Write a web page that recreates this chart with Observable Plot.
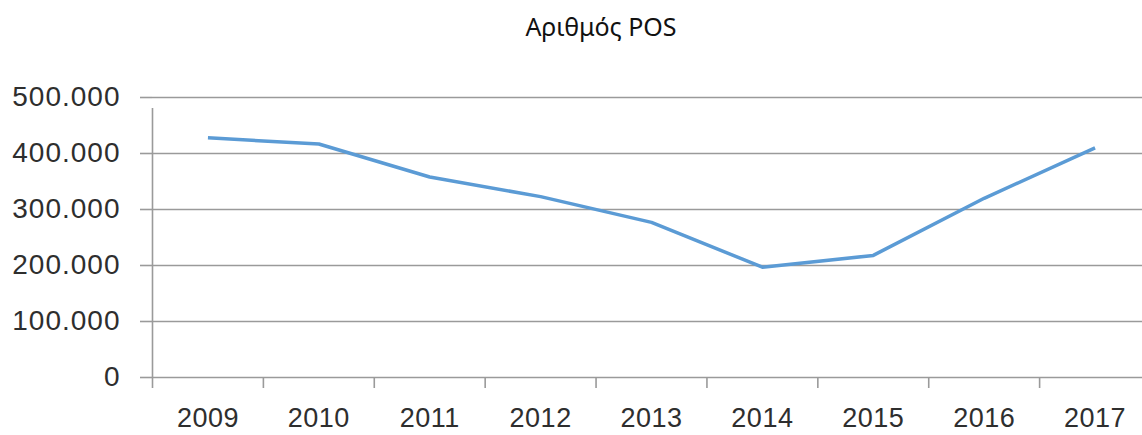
<!DOCTYPE html>
<html>
<head>
<meta charset="utf-8">
<script src="https://cdn.jsdelivr.net/npm/d3@7"></script>
<script src="https://cdn.jsdelivr.net/npm/@observablehq/plot@0.6"></script>
<style>
  html, body { margin: 0; padding: 0; background: #fff; }
  #title { height: 56px; width: 1142px; box-sizing: border-box; padding-left: 60px; text-align: center;
           font-family: "Noto Sans", "Open Sans", sans-serif; font-size: 25px; color: #111;
           line-height: 52px; }
  #chart svg { display: block; }
  .yax text { letter-spacing: 1px; }
  .xlab text { letter-spacing: 0.5px; }
</style>
</head>
<body>
<div id="title">Αριθμός POS</div>
<div id="chart"></div>
<script>
const years = [2009, 2010, 2011, 2012, 2013, 2014, 2015, 2016, 2017];
const posCount = [428000, 417000, 358000, 323000, 277000, 197000, 218000, 320000, 410000];
const yTicks = [0, 100000, 200000, 300000, 400000, 500000];
const titleText = "Αριθμός POS";

const data = years.map((y, i) => ({year: y, value: posCount[i]}));
const boundaries = years.map(y => y - 0.5);
const greek = d3.formatLocale({decimal: ",", thousands: ".", grouping: [3], currency: ["", "€"]});
const fmt = greek.format(",");

const grid = "#9a9a9a";
const textColor = "#2e2e2e";

const chart = Plot.plot({
  width: 1142,
  height: 379,
  marginTop: 41,
  marginBottom: 58,
  marginLeft: 152,
  marginRight: 0,
  style: {fontFamily: "'Liberation Sans', Arial, sans-serif", fontSize: "28px", color: textColor, background: "#fff"},
  x: {type: "linear", domain: [2008.5, 2017.5], range: [152, 1150]},
  y: {domain: [0, 500000]},
  marks: [
    Plot.ruleY(yTicks, {stroke: grid, strokeWidth: 1.6}),
    Plot.ruleX([2008.5], {y1: 0, y2: 500000, stroke: grid, strokeWidth: 1.6, insetBottom: -11}),
    Plot.axisY({ticks: yTicks, tickFormat: fmt, tickSize: 12, tickPadding: 20, stroke: grid, strokeWidth: 1.6, fill: textColor, label: null, className: "yax"}),
    Plot.axisX({ticks: boundaries, tickSize: 11, tickFormat: () => "", stroke: grid, strokeWidth: 1.6, label: null}),
    Plot.axisX({ticks: years, tickSize: 0, tickPadding: 30, fontSize: 27, tickFormat: d => String(d), fill: textColor, label: null, className: "xlab"}),
    Plot.line(data, {x: "year", y: "value", stroke: "#5B9BD5", strokeWidth: 3.5, strokeLinejoin: "round", strokeLinecap: "butt"})
  ]
});
document.getElementById("chart").appendChild(chart);
</script>
</body>
</html>
